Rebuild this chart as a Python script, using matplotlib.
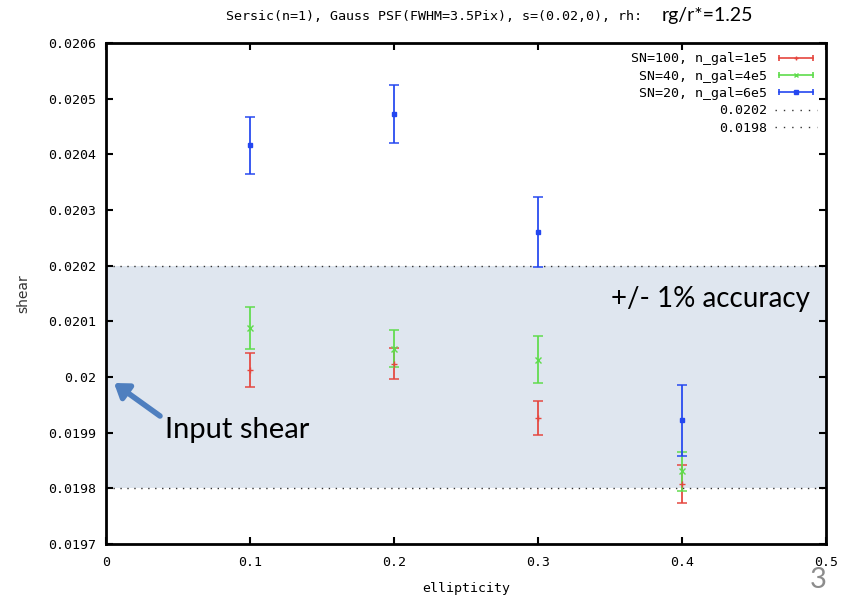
import matplotlib
matplotlib.use("Agg")
import matplotlib.pyplot as plt
from matplotlib.lines import Line2D
from matplotlib.legend_handler import HandlerLine2D, HandlerTuple

# ---- data ----
ellipticity = [0.1, 0.2, 0.3, 0.4]
sn100_shear = [0.020013, 0.020024, 0.019926, 0.019808]
sn100_err = [0.0000303, 0.0000284, 0.0000302, 0.0000344]
sn40_shear = [0.020088, 0.020051, 0.020031, 0.019831]
sn40_err = [0.0000380, 0.0000335, 0.0000419, 0.0000350]
sn20_shear = [0.020416, 0.020473, 0.020260, 0.019922]
sn20_err = [0.0000507, 0.0000518, 0.0000626, 0.0000635]
series_labels = ["SN=100, n_gal=1e5", "SN=40, n_gal=4e5", "SN=20, n_gal=6e5"]
band_low, band_high = 0.0198, 0.0202
band_labels = ["0.0202", "0.0198"]
x_ticks = [0, 0.1, 0.2, 0.3, 0.4, 0.5]
x_ticklabels = ["0", "0.1", "0.2", "0.3", "0.4", "0.5"]
y_ticks = [0.0197, 0.0198, 0.0199, 0.0200, 0.0201, 0.0202, 0.0203, 0.0204, 0.0205, 0.0206]
y_ticklabels = ["0.0197", "0.0198", "0.0199", "0.02", "0.0201", "0.0202",
                "0.0203", "0.0204", "0.0205", "0.0206"]

colors = ["#e5463e", "#5fdc4c", "#2447f0"]
markers = ["+", "x", "s"]
mono = "DejaVu Sans Mono"
gsize = 9.5

fig = plt.figure(figsize=(8.52, 5.95), dpi=100)
ax = fig.add_axes([106/852, 51/595, 720/852, 501/595])

ax.set_xlim(0, 0.5)
ax.set_ylim(0.0197, 0.0206)

# shaded accuracy band
ax.axhspan(band_low, band_high, color="#dfe6ef", zorder=0, lw=0)
ax.axhline(band_high, color="#333333", ls=(0, (1, 4)), lw=1.0, zorder=1)
ax.axhline(band_low, color="#333333", ls=(0, (1, 4)), lw=1.0, zorder=1)

series = [(sn100_shear, sn100_err), (sn40_shear, sn40_err), (sn20_shear, sn20_err)]
for (vals, errs), c, m in zip(series, colors, markers):
    ax.errorbar(ellipticity, vals, yerr=errs, fmt="none", ecolor=c, elinewidth=1.4,
                capsize=3.5, capthick=1.2, alpha=0.9, zorder=3)
    ax.plot(ellipticity, vals, ls="none", marker=m, color=c, ms=4 if m != "s" else 2.8,
            mew=1.0, zorder=4)

# ticks
ax.set_xticks(x_ticks)
ax.set_xticklabels(x_ticklabels, fontfamily=mono, fontsize=gsize)
ax.set_yticks(y_ticks)
ax.set_yticklabels(y_ticklabels, fontfamily=mono, fontsize=gsize)
ax.tick_params(direction="in", length=5, width=1.5, top=True, right=True)
ax.tick_params(axis="y", pad=7)
ax.tick_params(axis="x", pad=9)
for s in ax.spines.values():
    s.set_linewidth(2)

ax.set_xlabel("ellipticity", fontfamily=mono, fontsize=gsize, labelpad=9)
ax.set_ylabel("shear", fontfamily="DejaVu Sans", fontsize=10, labelpad=13, color="#333333")

# legend
handles = []
hmap = {}
for c, m in zip(colors, markers):
    cap = Line2D([], [], color=c, lw=1.2, marker="|", ms=5, mew=1.2)
    mid = Line2D([], [], ls="none", color=c, marker=m, ms=3 if m != "s" else 2.5)
    hmap[cap] = HandlerLine2D(numpoints=2)
    hmap[mid] = HandlerLine2D(numpoints=1)
    handles.append((cap, mid))
for _ in band_labels:
    handles.append(Line2D([], [], color="#333333", ls=(0, (1, 5)), lw=1.0))
hmap[tuple] = HandlerTuple(ndivide=1, pad=0)
leg = ax.legend(handles, series_labels + band_labels, handler_map=hmap,
                loc="upper right", frameon=False, markerfirst=False,
                prop={"family": mono, "size": gsize}, handlelength=3.2,
                labelspacing=0.33, borderaxespad=0.5, handletextpad=0.6,
                borderpad=0.2)

# titles / annotations
fig.text(642/852, 1 - 17/595, "Sersic(n=1), Gauss PSF(FWHM=3.5Pix), s=(0.02,0), rh:",
         ha="right", va="center", fontfamily=mono, fontsize=9.6)
fig.text(662/852, 1 - 16/595, "rg/r*=1.25", ha="left", va="center",
         fontfamily="Lato", fontsize=14)

ax.text(0.978, 0.020141, "+/- 1% accuracy", ha="right", va="center",
        transform=ax.get_yaxis_transform(), fontfamily="Lato", fontsize=20)
ax.text(165/852, 1 - 430/595, "Input shear", ha="left", va="center",
        transform=fig.transFigure, fontfamily="Lato", fontsize=21)
ax.annotate("", xy=(114/852, 1 - 383/595), xycoords="figure fraction",
            xytext=(160/852, 1 - 416/595), textcoords="figure fraction",
            arrowprops=dict(arrowstyle="-|>,head_length=0.8,head_width=0.55",
                            color="#4f7fbf", lw=4, shrinkA=0, shrinkB=0))

fig.text(818/852, 1 - 580/595, "3", ha="center", va="center", fontfamily="Lato",
         fontsize=21, color="#8c8c8c")

fig.savefig("out.png", dpi=100)
